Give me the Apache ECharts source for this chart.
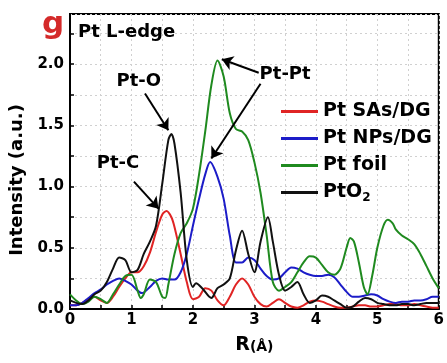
<!DOCTYPE html>
<html>
<head>
<meta charset="utf-8">
<script src="https://cdn.jsdelivr.net/npm/echarts@6/dist/echarts.min.js"></script>
<style>html,body{margin:0;padding:0;background:#fff;}#c{width:447px;height:363px;}</style>
</head>
<body>
<div id="c"></div>
<script>
// Data (R in Å, intensity in a.u.)
const seriesNames = ['Pt SAs/DG', 'Pt NPs/DG', 'Pt foil', 'PtO2'];
const xTicks = [0, 1, 2, 3, 4, 5, 6];
const yTicks = [0.0, 0.5, 1.0, 1.5, 2.0];

const ptSAs = [[0,0.03],[0.1,0.03],[0.2,0.05],[0.3,0.08],[0.4,0.1],[0.5,0.07],[0.6,0.05],[0.7,0.1],[0.8,0.18],[0.9,0.25],[1.0,0.3],[1.1,0.3],[1.2,0.35],[1.3,0.46],[1.4,0.63],[1.5,0.77],[1.57,0.8],[1.65,0.75],[1.7,0.67],[1.8,0.45],[1.9,0.22],[2.0,0.08],[2.1,0.1],[2.2,0.17],[2.3,0.15],[2.4,0.07],[2.5,0.03],[2.6,0.1],[2.7,0.2],[2.8,0.25],[2.9,0.2],[3.0,0.1],[3.1,0.04],[3.2,0.02],[3.3,0.05],[3.4,0.08],[3.5,0.05],[3.6,0.02],[3.7,0.01],[3.8,0.03],[3.9,0.06],[4.0,0.07],[4.1,0.06],[4.2,0.04],[4.3,0.02],[4.4,0.01],[4.5,0.01],[4.6,0.02],[4.7,0.03],[4.8,0.03],[4.9,0.02],[5.0,0.02],[5.1,0.03],[5.2,0.04],[5.3,0.04],[5.4,0.03],[5.5,0.03],[5.6,0.04],[5.7,0.03],[5.8,0.02],[5.9,0.01],[6.0,0.01]];

const ptNPs = [[0,0.03],[0.1,0.03],[0.2,0.05],[0.3,0.09],[0.4,0.13],[0.5,0.16],[0.6,0.2],[0.7,0.23],[0.8,0.25],[0.9,0.23],[1.0,0.2],[1.1,0.15],[1.17,0.13],[1.3,0.18],[1.4,0.23],[1.5,0.25],[1.6,0.24],[1.7,0.24],[1.8,0.3],[1.9,0.45],[2.0,0.68],[2.1,0.9],[2.2,1.1],[2.28,1.2],[2.4,1.08],[2.5,0.9],[2.6,0.6],[2.7,0.38],[2.8,0.38],[2.9,0.42],[3.0,0.4],[3.1,0.33],[3.2,0.27],[3.3,0.24],[3.4,0.25],[3.5,0.3],[3.6,0.34],[3.7,0.33],[3.8,0.3],[3.9,0.28],[4.0,0.27],[4.1,0.27],[4.2,0.28],[4.3,0.26],[4.4,0.2],[4.5,0.14],[4.6,0.1],[4.7,0.1],[4.8,0.11],[4.9,0.12],[5.0,0.11],[5.1,0.08],[5.2,0.06],[5.3,0.05],[5.4,0.06],[5.5,0.06],[5.6,0.07],[5.7,0.07],[5.8,0.08],[5.9,0.1],[6.0,0.1]];

const ptFoil = [[0,0.12],[0.1,0.07],[0.2,0.04],[0.3,0.06],[0.4,0.1],[0.5,0.08],[0.6,0.05],[0.7,0.12],[0.8,0.2],[0.9,0.27],[1.0,0.28],[1.1,0.15],[1.15,0.09],[1.2,0.12],[1.3,0.24],[1.4,0.22],[1.5,0.1],[1.55,0.09],[1.6,0.2],[1.7,0.45],[1.8,0.62],[1.9,0.7],[2.0,0.82],[2.1,1.1],[2.2,1.45],[2.3,1.83],[2.4,2.03],[2.5,1.9],[2.6,1.6],[2.7,1.47],[2.8,1.45],[2.9,1.38],[3.0,1.2],[3.1,0.95],[3.2,0.6],[3.3,0.22],[3.4,0.15],[3.5,0.18],[3.6,0.22],[3.7,0.3],[3.8,0.38],[3.9,0.43],[4.0,0.42],[4.1,0.36],[4.2,0.3],[4.3,0.28],[4.4,0.33],[4.5,0.5],[4.56,0.58],[4.62,0.55],[4.7,0.38],[4.78,0.18],[4.84,0.12],[4.92,0.28],[5.0,0.5],[5.1,0.68],[5.17,0.73],[5.25,0.7],[5.3,0.65],[5.4,0.6],[5.5,0.57],[5.6,0.53],[5.7,0.45],[5.8,0.35],[5.9,0.25],[6.0,0.17]];

const ptO2 = [[0,0.07],[0.1,0.05],[0.2,0.04],[0.3,0.07],[0.4,0.12],[0.5,0.15],[0.6,0.22],[0.7,0.33],[0.8,0.42],[0.9,0.4],[1.0,0.3],[1.1,0.32],[1.2,0.45],[1.3,0.55],[1.4,0.68],[1.5,1.02],[1.6,1.38],[1.65,1.43],[1.7,1.35],[1.8,0.95],[1.9,0.4],[2.0,0.18],[2.05,0.21],[2.15,0.17],[2.3,0.09],[2.4,0.17],[2.5,0.2],[2.6,0.25],[2.7,0.48],[2.8,0.64],[2.9,0.45],[3.0,0.3],[3.1,0.55],[3.22,0.75],[3.3,0.55],[3.4,0.28],[3.5,0.15],[3.6,0.18],[3.7,0.22],[3.8,0.12],[3.9,0.05],[4.0,0.07],[4.1,0.11],[4.2,0.1],[4.3,0.07],[4.4,0.04],[4.5,0.01],[4.6,0.02],[4.7,0.06],[4.8,0.09],[4.9,0.08],[5.0,0.05],[5.1,0.04],[5.2,0.03],[5.3,0.03],[5.4,0.04],[5.5,0.04],[5.6,0.03],[5.7,0.04],[5.8,0.05],[5.9,0.05],[6.0,0.05]];

// Annotation arrows (tail -> head) and labels in data coordinates
const arrows = [
  [[1.22, 1.76], [1.6, 1.46]],
  [[1.04, 1.04], [1.44, 0.82]],
  [[3.07, 1.93], [2.47, 2.04]],
  [[3.1, 1.84], [2.3, 1.23]]
];
const annoLabels = [
  {text: 'Pt-O', at: [1.12, 1.86]},
  {text: 'Pt-C', at: [0.78, 1.19]},
  {text: 'Pt-Pt', at: [3.5, 1.92]},
  {text: 'Pt L-edge', at: [0.92, 2.26]}
];

const colors = ['#e02424', '#1c1cc8', '#1f8a1f', '#111111'];
const FONT = 'DejaVu Sans';

const chart = echarts.init(document.getElementById('c'), null, {renderer: 'canvas'});
const isMultiple = (v, step) => Math.abs(v / step - Math.round(v / step)) < 1e-6;

const seriesData = [ptSAs, ptNPs, ptFoil, ptO2];
const series = seriesData.map((d, i) => ({
  name: seriesNames[i],
  type: 'line',
  data: d,
  smooth: 0.3,
  showSymbol: false,
  lineStyle: {width: 2, color: colors[i]},
  itemStyle: {color: colors[i]},
  z: i === 3 ? 4 : 3
}));

series.push({
  name: 'annotations',
  type: 'line',
  data: [],
  silent: true,
  markLine: {
    silent: true,
    symbol: ['none', 'arrow'],
    symbolSize: 11,
    lineStyle: {color: '#000', width: 2, type: 'solid'},
    label: {show: false},
    animation: false,
    data: arrows.map(a => [{coord: a[0]}, {coord: a[1]}])
  },
  markPoint: {
    silent: true,
    symbol: 'circle',
    symbolSize: 0,
    animation: false,
    label: {
      show: true, position: 'inside', color: '#000',
      fontFamily: FONT, fontWeight: 'bold', fontSize: 18,
      formatter: p => p.name
    },
    data: annoLabels.map(l => ({name: l.text, coord: l.at}))
  }
});

chart.setOption({
  animation: false,
  backgroundColor: '#fff',
  grid: {left: 70, right: 2, top: 14, bottom: 54, show: true, borderColor: '#000', borderWidth: 2, backgroundColor: 'transparent'},
  legend: {
    data: seriesNames,
    orient: 'vertical',
    left: 276,
    top: 97,
    icon: 'rect',
    itemWidth: 37,
    itemHeight: 3,
    itemGap: 8,
    selectedMode: false,
    formatter: n => n === 'PtO2' ? 'PtO{sub|2}' : n,
    textStyle: {
      fontFamily: FONT, fontWeight: 'bold', fontSize: 19, color: '#000', lineHeight: 18,
      rich: {sub: {fontFamily: FONT, fontWeight: 'bold', fontSize: 12, color: '#000', padding: [11, 0, 0, 0]}}
    }
  },
  xAxis: {
    type: 'value',
    min: 0, max: 6, interval: 0.5,
    name: '{r|R}{a|(Å)}',
    nameLocation: 'middle',
    nameGap: 27,
    nameTextStyle: {
      rich: {
        r: {fontFamily: FONT, fontWeight: 'bold', fontSize: 19, color: '#000'},
        a: {fontFamily: FONT, fontWeight: 'bold', fontSize: 14, color: '#000', padding: [3, 0, 0, 0]}
      }
    },
    axisLine: {show: true, lineStyle: {color: '#000', width: 2}},
    axisTick: {show: true, inside: true, length: 4, lineStyle: {color: '#000', width: 1.5}},
    axisLabel: {
      color: '#000', fontFamily: FONT, fontWeight: 'bold', fontSize: 15, margin: 4,
      formatter: v => (isMultiple(v, 1) && xTicks.includes(Math.round(v))) ? String(Math.round(v)) : ''
    },
    splitLine: {show: true, lineStyle: {color: '#d0d0d0', type: [2, 3], width: 1}}
  },
  yAxis: {
    type: 'value',
    min: 0, max: 2.41, interval: 0.25,
    axisLine: {show: true, lineStyle: {color: '#000', width: 2}},
    axisTick: {show: true, inside: true, length: 4, lineStyle: {color: '#000', width: 1.5}},
    axisLabel: {
      color: '#000', fontFamily: FONT, fontWeight: 'bold', fontSize: 15, margin: 6,
      showMaxLabel: false,
      formatter: v => (isMultiple(v, 0.5) && yTicks.some(t => Math.abs(t - v) < 1e-6)) ? v.toFixed(1) : ''
    },
    splitLine: {show: true, lineStyle: {color: '#d0d0d0', type: [2, 3], width: 1}}
  },
  graphic: [
    {type: 'text', x: 53, y: 25, style: {text: 'g', fill: '#d42a2a', font: 'bold 31px "DejaVu Sans"', textAlign: 'center', textVerticalAlign: 'middle'}},
    {type: 'text', x: 17, y: 180, rotation: Math.PI / 2, style: {text: 'Intensity (a.u.)', fill: '#000', font: 'bold 18px "DejaVu Sans"', textAlign: 'center', textVerticalAlign: 'middle'}}
  ],
  series: series
});
</script>
</body>
</html>
